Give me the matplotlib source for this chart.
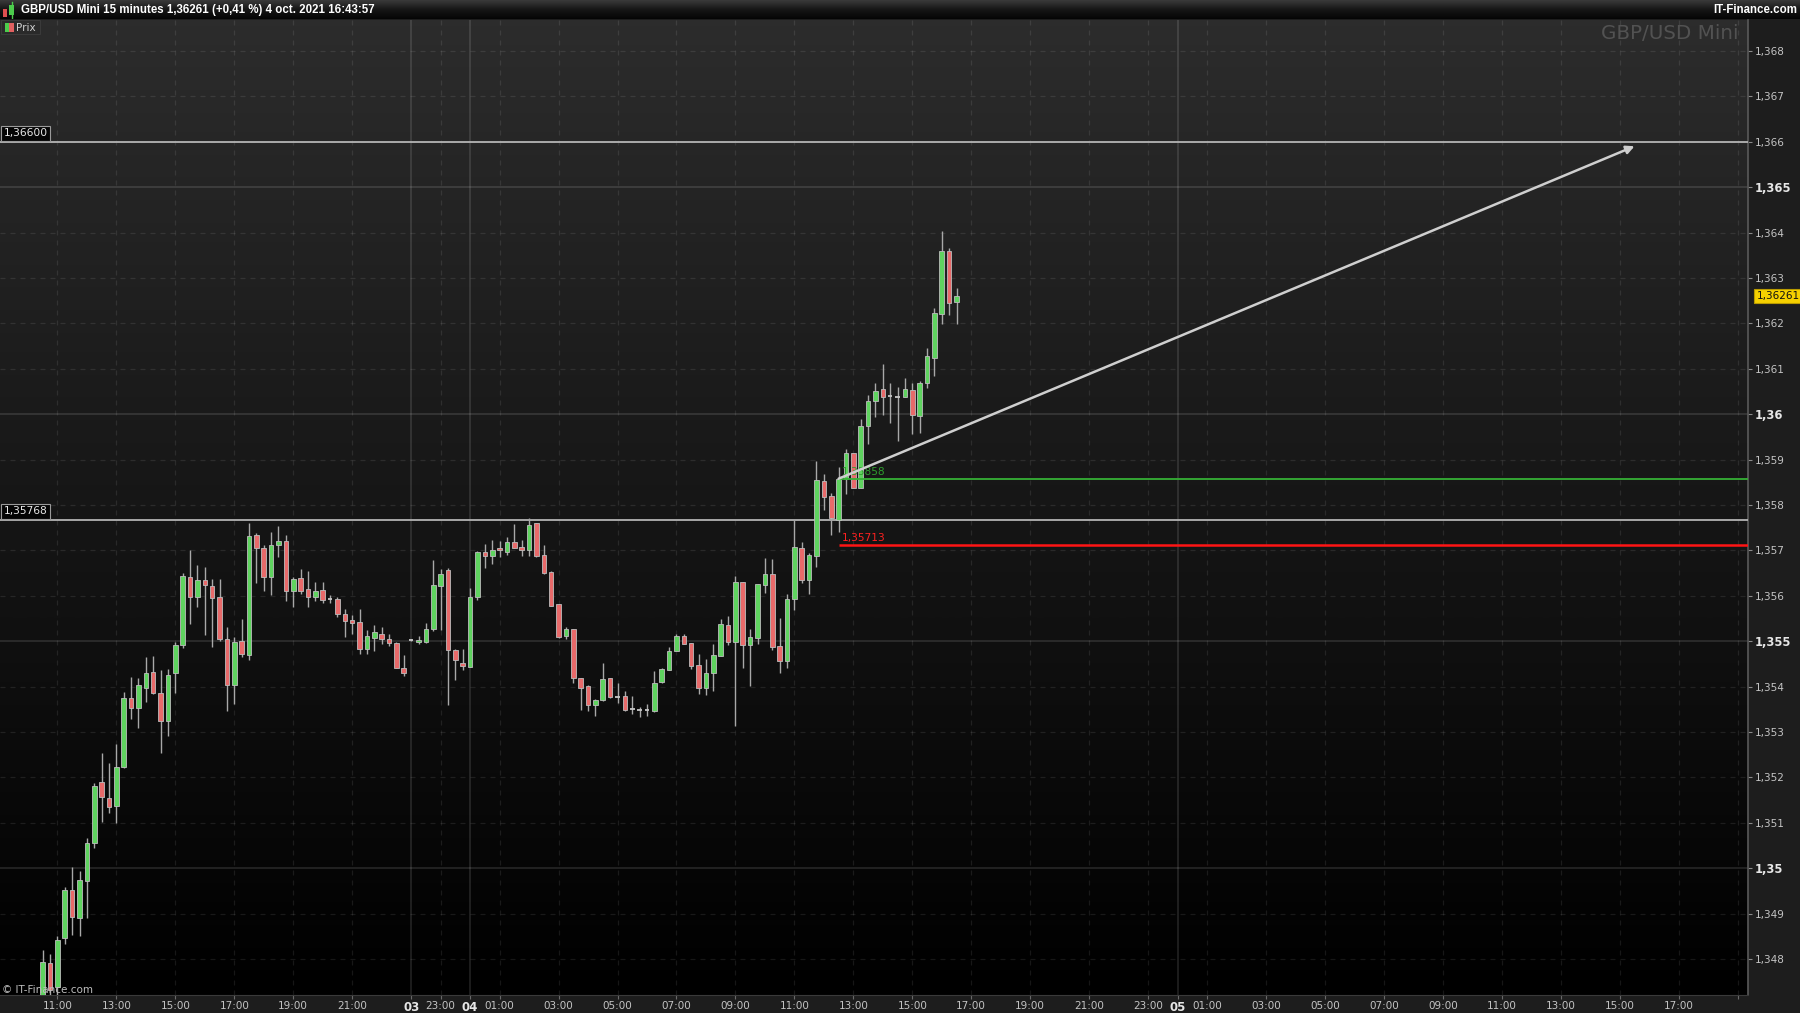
import numpy as np
import matplotlib
matplotlib.use('Agg')
import matplotlib.pyplot as plt
from matplotlib.patches import Rectangle
from matplotlib.colors import LinearSegmentedColormap

# ---------------- data (15-minute bars, x = bar slot; 0 = Fri 11:00) ----------------
slots = list(range(-2, 123))
opens = [1.34700, 1.34792, 1.34738, 1.34846, 1.34953, 1.34891, 1.34972, 1.35055, 1.35191, 1.35155,
         1.35137, 1.35224, 1.35376, 1.35354, 1.35398, 1.35432, 1.35387, 1.35325, 1.35429, 1.35492,
         1.35642, 1.35597, 1.35635, 1.35622, 1.35598, 1.35506, 1.35403, 1.35501, 1.35469, 1.35735,
         1.35706, 1.35642, 1.35713, 1.35721, 1.35611, 1.35639, 1.35614, 1.35597, 1.35613, 1.35592,
         1.35594, 1.35561, 1.35547, 1.35542, 1.35483, 1.35508, 1.35517, 1.35505, 1.35497, 1.35442,
         1.35503, 1.35499, 1.35499, 1.35526, 1.35621, 1.35657, 1.35481, 1.35453, 1.35444, 1.35597,
         1.35696, 1.35688, 1.35705, 1.35697, 1.35718, 1.35707, 1.35700, 1.35760, 1.35691, 1.35652,
         1.35581, 1.35511, 1.35526, 1.35418, 1.35402, 1.35360, 1.35370, 1.35418, 1.35378, 1.35380,
         1.35350, 1.35348, 1.35348, 1.35347, 1.35411, 1.35437, 1.35479, 1.35511, 1.35497, 1.35448,
         1.35398, 1.35429, 1.35468, 1.35536, 1.35499, 1.35630, 1.35492, 1.35508, 1.35624, 1.35648,
         1.35490, 1.35456, 1.35593, 1.35706, 1.35635, 1.35688, 1.35853, 1.35820, 1.35768, 1.35857,
         1.35914, 1.35837, 1.35975, 1.36028, 1.36055, 1.36039, 1.36037, 1.36037, 1.36053, 1.35995,
         1.36068, 1.36123, 1.36221, 1.36360, 1.36246]
highs = [1.34821, 1.34811, 1.34851, 1.34959, 1.35003, 1.34995, 1.35066, 1.35188, 1.35253, 1.35231,
         1.35274, 1.35389, 1.35422, 1.35418, 1.35466, 1.35468, 1.35437, 1.35438, 1.35499, 1.35651,
         1.35702, 1.35668, 1.35664, 1.35638, 1.35638, 1.35532, 1.35510, 1.35548, 1.35760, 1.35738,
         1.35713, 1.35740, 1.35754, 1.35733, 1.35642, 1.35658, 1.35655, 1.35631, 1.35631, 1.35602,
         1.35598, 1.35570, 1.35558, 1.35572, 1.35525, 1.35536, 1.35532, 1.35515, 1.35499, 1.35470,
         1.35506, 1.35511, 1.35541, 1.35679, 1.35660, 1.35661, 1.35484, 1.35483, 1.35618, 1.35699,
         1.35714, 1.35723, 1.35721, 1.35729, 1.35758, 1.35723, 1.35771, 1.35761, 1.35712, 1.35655,
         1.35583, 1.35532, 1.35528, 1.35420, 1.35404, 1.35373, 1.35451, 1.35420, 1.35409, 1.35390,
         1.35380, 1.35356, 1.35362, 1.35435, 1.35442, 1.35488, 1.35517, 1.35517, 1.35497, 1.35472,
         1.35460, 1.35494, 1.35549, 1.35555, 1.35644, 1.35631, 1.35526, 1.35627, 1.35683, 1.35680,
         1.35552, 1.35605, 1.35767, 1.35719, 1.35694, 1.35897, 1.35868, 1.35826, 1.35884, 1.35923,
         1.35914, 1.35989, 1.36042, 1.36069, 1.36111, 1.36068, 1.36059, 1.36079, 1.36069, 1.36072,
         1.36145, 1.36233, 1.36404, 1.36365, 1.36277]
lows = [1.34680, 1.34712, 1.34722, 1.34834, 1.34853, 1.34851, 1.34891, 1.35044, 1.35103, 1.35121,
        1.35099, 1.35220, 1.35328, 1.35308, 1.35367, 1.35384, 1.35253, 1.35291, 1.35387, 1.35486,
        1.35539, 1.35575, 1.35514, 1.35488, 1.35500, 1.35347, 1.35362, 1.35466, 1.35459, 1.35629,
        1.35611, 1.35602, 1.35685, 1.35589, 1.35575, 1.35605, 1.35576, 1.35589, 1.35585, 1.35585,
        1.35553, 1.35509, 1.35517, 1.35473, 1.35472, 1.35479, 1.35494, 1.35490, 1.35440, 1.35423,
        1.35500, 1.35494, 1.35497, 1.35523, 1.35525, 1.35360, 1.35415, 1.35437, 1.35443, 1.35591,
        1.35661, 1.35669, 1.35686, 1.35690, 1.35706, 1.35688, 1.35688, 1.35686, 1.35648, 1.35578,
        1.35508, 1.35506, 1.35409, 1.35348, 1.35347, 1.35336, 1.35369, 1.35376, 1.35365, 1.35347,
        1.35339, 1.35334, 1.35335, 1.35345, 1.35407, 1.35437, 1.35478, 1.35494, 1.35438, 1.35384,
        1.35382, 1.35390, 1.35467, 1.35492, 1.35313, 1.35440, 1.35402, 1.35495, 1.35607, 1.35481,
        1.35431, 1.35442, 1.35569, 1.35629, 1.35604, 1.35664, 1.35789, 1.35735, 1.35741, 1.35824,
        1.35838, 1.35837, 1.35934, 1.35993, 1.35998, 1.35981, 1.35942, 1.36037, 1.35956, 1.35959,
        1.36057, 1.36084, 1.36199, 1.36219, 1.36198]
closes = [1.34794, 1.34732, 1.34843, 1.34953, 1.34893, 1.34974, 1.35055, 1.35181, 1.35158, 1.35136,
          1.35224, 1.35374, 1.35352, 1.35404, 1.35431, 1.35387, 1.35325, 1.35426, 1.35492, 1.35644,
          1.35598, 1.35635, 1.35623, 1.35596, 1.35506, 1.35403, 1.35499, 1.35471, 1.35732, 1.35705,
          1.35642, 1.35713, 1.35721, 1.35610, 1.35638, 1.35611, 1.35597, 1.35611, 1.35591, 1.35593,
          1.35561, 1.35545, 1.35541, 1.35484, 1.35511, 1.35520, 1.35506, 1.35497, 1.35442, 1.35429,
          1.35503, 1.35503, 1.35526, 1.35623, 1.35648, 1.35481, 1.35459, 1.35446, 1.35597, 1.35696,
          1.35688, 1.35700, 1.35700, 1.35718, 1.35706, 1.35700, 1.35757, 1.35688, 1.35650, 1.35578,
          1.35510, 1.35528, 1.35420, 1.35398, 1.35360, 1.35370, 1.35416, 1.35378, 1.35378, 1.35348,
          1.35350, 1.35348, 1.35348, 1.35409, 1.35439, 1.35479, 1.35511, 1.35495, 1.35446, 1.35398,
          1.35431, 1.35470, 1.35539, 1.35499, 1.35630, 1.35492, 1.35510, 1.35625, 1.35648, 1.35488,
          1.35456, 1.35594, 1.35707, 1.35635, 1.35690, 1.35855, 1.35817, 1.35771, 1.35857, 1.35914,
          1.35838, 1.35974, 1.36030, 1.36052, 1.36037, 1.36039, 1.36037, 1.36055, 1.35998, 1.36069,
          1.36129, 1.36222, 1.36360, 1.36244, 1.36261]

# horizontal levels and drawn objects
level_high = 1.36600
level_low = 1.35768
green_level = 1.35858
red_level = 1.35713
line_start_slot = 106
arrow_start = (106, 1.35858)
arrow_end = (214, 1.36590)
last_price = 1.36261

# time axis
hour_tick_slots = [0, 8, 16, 24, 32, 40, 52, 60, 68, 76, 84, 92, 100, 108, 116, 124, 132, 140, 148,
                   156, 164, 172, 180, 188, 196, 204, 212, 220, 228]
hour_tick_labels = ['11:00', '13:00', '15:00', '17:00', '19:00', '21:00', '23:00', '01:00', '03:00',
                    '05:00', '07:00', '09:00', '11:00', '13:00', '15:00', '17:00', '19:00', '21:00',
                    '23:00', '01:00', '03:00', '05:00', '07:00', '09:00', '11:00', '13:00', '15:00',
                    '17:00', '']
day_slots = [48, 56, 152]
day_labels = ['03', '04', '05']

price_ticks = [1.348, 1.349, 1.350, 1.351, 1.352, 1.353, 1.354, 1.355, 1.356, 1.357, 1.358,
               1.359, 1.360, 1.361, 1.362, 1.363, 1.364, 1.365, 1.366, 1.367, 1.368]
price_labels = ['1,348', '1,349', '1,35', '1,351', '1,352', '1,353', '1,354', '1,355', '1,356',
                '1,357', '1,358', '1,359', '1,36', '1,361', '1,362', '1,363', '1,364', '1,365',
                '1,366', '1,367', '1,368']
major_prices = [1.350, 1.355, 1.360, 1.365]

# ---------------- figure ----------------
W, H = 1800, 1013
fig = plt.figure(figsize=(W / 100, H / 100), dpi=100, facecolor='#1d1d1d')
plt.rcParams['font.family'] = ['DejaVu Sans']

def fx(x):
    return x / W

def fy(y):
    return 1 - y / H

ax_left, ax_right, ax_top, ax_bottom = 0, 1748, 20, 995
ax = fig.add_axes([fx(ax_left), fy(ax_bottom), fx(ax_right - ax_left), (ax_bottom - ax_top) / H])
XMIN, XMAX = -7.79, 229.4
YMIN, YMAX = 1.34721, 1.36868
ax.set_xlim(XMIN, XMAX)
ax.set_ylim(YMIN, YMAX)

# gradient background
cmap = LinearSegmentedColormap.from_list('bg', ['#000000', '#2c2c2c'])
grad = np.linspace(1, 0, 256).reshape(-1, 1)
ax.imshow(grad, extent=[XMIN, XMAX, YMIN, YMAX], aspect='auto', cmap=cmap, zorder=0,
          interpolation='bilinear')

# grid lines
for p in price_ticks:
    if any(abs(p - m) < 1e-9 for m in major_prices):
        ax.axhline(p, color='white', alpha=0.12, lw=1.3, zorder=1)
    else:
        ax.axhline(p, color='white', alpha=0.09, lw=0.9, ls=(0, (4, 4)), zorder=1)
for s in hour_tick_slots:
    ax.axvline(s, color='white', alpha=0.09, lw=0.9, ls=(0, (4, 4)), zorder=1)
for s in day_slots:
    ax.axvline(s, color='white', alpha=0.12, lw=1.3, zorder=1)

# horizontal levels
ax.axhline(level_high, color='#b4b4b4', lw=1.3, zorder=3)
ax.axhline(level_low, color='#b4b4b4', lw=1.3, zorder=3)
for lv, lab in [(level_high, '1,36600'), (level_low, '1,35768')]:
    ax.annotate(lab, xy=(0, lv), xycoords=('axes fraction', 'data'), xytext=(2.5, 2.4),
                textcoords='offset points', color='#e8e8e8', fontsize=7.7, va='bottom', ha='left',
                bbox=dict(boxstyle='square,pad=0.25', fc='#050505', ec='#9a9a9a', lw=0.8), zorder=6)

# candles
green_c = '#5fd35f'
red_c = '#e86a6a'
body_w = 0.62
for s, o, h, l, c in zip(slots, opens, highs, lows, closes):
    ax.vlines(s, l, h, color='#a8a8a8', lw=1.0, zorder=4)
    up = c >= o
    bottom = min(o, c)
    height = abs(c - o)
    if height < 0.00003:
        ax.hlines((o + c) / 2, s - body_w / 2, s + body_w / 2, color='#c8c8c8', lw=1.3, zorder=5)
    else:
        ax.add_patch(Rectangle((s - body_w / 2, bottom), body_w, height,
                               fc=green_c if up else red_c, ec='#bdbdbd', lw=0.6, zorder=5))

# support / target lines
ax.hlines(green_level, line_start_slot, XMAX, color='#35b035', lw=1.3, zorder=6)
ax.hlines(red_level, line_start_slot, XMAX, color='#ff1414', lw=1.8, zorder=6)
ax.annotate('1,35858', xy=(line_start_slot, green_level), xytext=(2, 1), textcoords='offset points',
            color='#2e9e2e', fontsize=7.7, va='bottom', ha='left', zorder=7)
ax.annotate('1,35713', xy=(line_start_slot, red_level), xytext=(2, 1), textcoords='offset points',
            color='#ff2020', fontsize=7.7, va='bottom', ha='left', zorder=7)

# arrow
ax.annotate('', xy=arrow_end, xytext=arrow_start,
            arrowprops=dict(arrowstyle='-|>', color='#cfcfcf', lw=1.8, mutation_scale=12,
                            shrinkA=0, shrinkB=0), zorder=7)

# axes styling
for side in ['top', 'left']:
    ax.spines[side].set_visible(False)
ax.spines['right'].set_color('#5a5a5a')
ax.spines['right'].set_linewidth(1.2)
ax.spines['bottom'].set_color('#3a3a3a')
ax.yaxis.tick_right()
ax.set_yticks(price_ticks)
ax.set_yticklabels(price_labels)
ax.tick_params(axis='y', colors='#8a8a8a', length=3, width=0.8, pad=2, labelsize=7.5,
               labelcolor='#c4c4c4')
for t, p in zip(ax.get_yticklabels(), price_ticks):
    if any(abs(p - m) < 1e-9 for m in major_prices):
        t.set_fontweight('bold')
        t.set_color('#e6e6e6')
        t.set_fontsize(8.3)

all_x = hour_tick_slots + day_slots
all_lab = hour_tick_labels + day_labels
order = np.argsort(all_x)
ax.set_xticks([all_x[i] for i in order])
ax.set_xticklabels([all_lab[i] for i in order])
ax.tick_params(axis='x', colors='#6a6a6a', length=3, width=0.8, pad=1.5, labelsize=7.5,
               labelcolor='#c4c4c4')
for t in ax.get_xticklabels():
    if t.get_text() in day_labels:
        t.set_fontweight('bold')
        t.set_fontsize(8.5)
        t.set_color('#e6e6e6')

# last price tag
ax.annotate('1,36261', xy=(1.0, last_price), xycoords=('axes fraction', 'data'), xytext=(6, 0),
            textcoords='offset points', color='#111111', fontsize=7.5, va='center', ha='left',
            bbox=dict(boxstyle='square,pad=0.2', fc='#f5d000', ec='#b89a00', lw=0.8),
            annotation_clip=False, zorder=8)

# watermark and copyright
ax.text(0.9943, 0.9962, 'GBP/USD Mini', transform=ax.transAxes, ha='right', va='top',
        color='#525252', fontsize=14.3, zorder=2)
ax.text(0.001, 0.0, '\u00a9 IT-Finance.com', transform=ax.transAxes, ha='left', va='bottom',
        color='#bdbdbd', fontsize=7.5, zorder=9)

# header bar
hax = fig.add_axes([0, fy(19), 1, 19 / H])
hax.set_xlim(0, W)
hax.set_ylim(19, 0)
hcmap = LinearSegmentedColormap.from_list('hd', ['#3a3a3a', '#161616', '#050505'])
hax.imshow(np.linspace(0, 1, 64).reshape(-1, 1), extent=[0, W, 19, 0], aspect='auto', cmap=hcmap)
hax.axis('off')
hax.add_patch(Rectangle((3, 9), 4, 8, fc='#e05050', ec='none'))
hax.add_patch(Rectangle((9, 5), 5, 10, fc='#4ccc4c', ec='none'))
hax.plot([11.5, 11.5], [2, 18], color='#4ccc4c', lw=1)
hax.text(21, 10, 'GBP/USD Mini 15 minutes 1,36261 (+0,41 %) 4 oct. 2021 16:43:57', color='white',
         fontsize=8.3, fontweight='bold', va='center', ha='left', family=['Liberation Sans', 'DejaVu Sans'])
hax.text(1797, 10, 'IT-Finance.com', color='white', fontsize=8.3, fontweight='bold',
         va='center', ha='right', family=['Liberation Sans', 'DejaVu Sans'])

# legend "Prix"
lax = fig.add_axes([fx(1), fy(35), fx(40), 15 / H])
lax.set_xlim(0, 40)
lax.set_ylim(15, 0)
lax.axis('off')
lax.add_patch(Rectangle((0, 0), 39, 14.5, fc='#2a2a2a', ec='#3a3a3a', lw=0.8))
lax.add_patch(Rectangle((4, 3), 4, 9, fc='#4ccc4c', ec='none'))
lax.add_patch(Rectangle((8, 3), 5, 9, fc='#e06060', ec='none'))
lax.text(15, 7.5, 'Prix', color='#cfcfcf', fontsize=7.5, va='center', ha='left')

fig.savefig('out.png', dpi=100, facecolor=fig.get_facecolor())
